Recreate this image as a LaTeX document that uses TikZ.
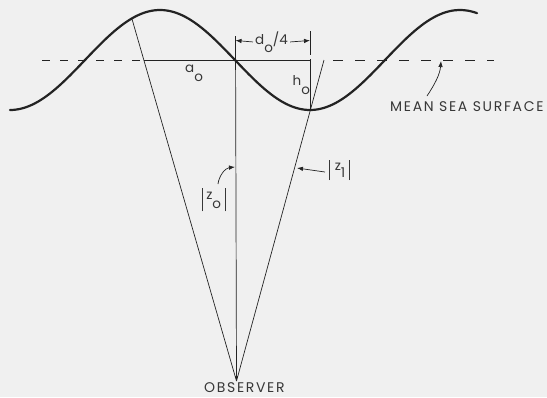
\documentclass[tikz,border=0pt]{standalone}
\usepackage{fontspec}
\setmainfont{Poppins}
\newfontfamily\capsfont[LetterSpace=12]{Poppins}
\usetikzlibrary{arrows.meta}
\definecolor{bg}{RGB}{240,240,240}
\definecolor{ink}{RGB}{35,35,35}
\definecolor{txt}{RGB}{55,55,55}
\begin{document}
\begin{tikzpicture}[x=1pt,y=-1pt,
  thinline/.style={draw=ink,line width=0.7pt},
  wave/.style={draw=ink,line width=2.2pt,line cap=round},
  tip/.style={-{Latex[length=6pt,width=4.5pt]}},
  lbl/.style={font=\fontsize{13.5}{13.5}\selectfont,text=txt,inner sep=0pt,anchor=base west},
  caps/.style={font=\capsfont\fontsize{14}{14}\selectfont,text=txt,inner sep=0pt,anchor=base west}]
\fill[bg] (0,0) rectangle (547,397);
\useasboundingbox (0,0) rectangle (547,397);
% key points
\coordinate (obs) at (236.5,381);
\coordinate (ltop) at (132,19);
\coordinate (lm) at (143.8,60);
\coordinate (rtop) at (324,60);
\coordinate (vtop) at (235.5,36);
\coordinate (ttop) at (310,31);
\coordinate (tmid1) at (310,55);
\coordinate (tmid2) at (310,59);
\coordinate (trough) at (310,110);
\coordinate (mr) at (310,60);
\coordinate (dl0) at (42,60);
\coordinate (dr0) at (333,60);
\coordinate (dr1) at (494,60);
\coordinate (dimL) at (235.5,40.5);
\coordinate (dimR) at (310,40.5);
% wave
\draw[wave] plot[domain=10:477,samples=150,smooth] (\x,{60-50*sin(1.2*(\x-85))});
% mean sea surface
\draw[thinline,dash pattern=on 8pt off 10pt] (dl0) -- (lm);
\draw[thinline] (lm) -- (mr);
\draw[thinline,dash pattern=on 10pt off 12pt] (dr0) -- (dr1);
% sight lines
\draw[thinline] (obs) -- (ltop);
\draw[thinline] (obs) -- (rtop);
\draw[thinline,-{Latex[length=5pt,width=3pt]}] (vtop) -- (obs);
% right dimension tick
\draw[thinline] (ttop) -- (tmid1);
\draw[thinline] (tmid2) -- (trough);
% labels
\node[lbl] (ao) at (185,72) {a\raisebox{-9pt}{o}};
\node[lbl] (ho) at (292.5,85) {h\raisebox{-9pt}{o}};
\node[lbl] (dim) at (255,44) {d\raisebox{-8.5pt}{o}/4};
\draw[thinline,tip] ([xshift=-2pt]dim.west) -- (dimL);
\draw[thinline,tip] ([xshift=2pt]dim.east) -- (dimR);
\node[lbl] (zo) at (201.5,199.3) {\rule[-12pt]{0.6pt}{23.5pt}\hspace{4pt}z\raisebox{-9pt}{o}\hspace{4pt}\rule[-12pt]{0.6pt}{23.5pt}};
\coordinate (zotail) at (218,184);
\coordinate (zotip) at (235,167);
\draw[thinline,tip] (zotail) .. controls (219,176) and (225,168) .. (zotip);
\node[lbl] (z1) at (329,170) {\rule[-10pt]{0.6pt}{20pt}\hspace{5pt}z\raisebox{-7pt}{1}\hspace{4pt}\rule[-10pt]{0.6pt}{20pt}};
\coordinate (z1tip) at (297,168);
\draw[thinline,tip] ([xshift=-4pt,yshift=-2pt]z1.west) -- (z1tip);
\node[caps] (mss) at (390,111.7) {MEAN SEA SURFACE};
\coordinate (msstail) at (427,96);
\coordinate (msstip) at (441,61);
\draw[thinline,tip] (msstail) .. controls (435,84) and (440,74) .. (msstip);
\node[caps] (obsl) at (204,392) {OBSERVER};
\end{tikzpicture}
\end{document}
